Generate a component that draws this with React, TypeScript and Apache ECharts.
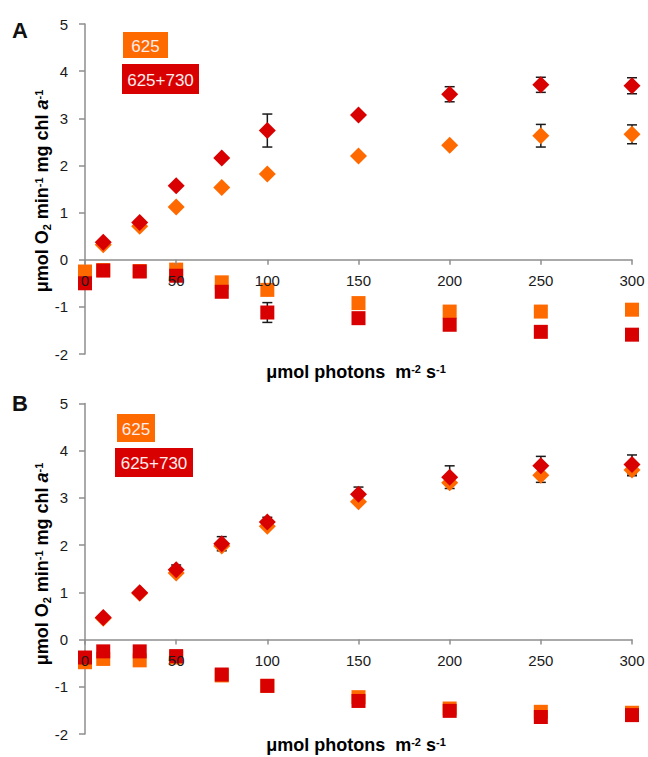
import React, { useEffect, useRef } from "react";
import * as echarts from "echarts";

// ---- data ----
const legendNames = ["625", "625+730"];
const xTicks = [0, 50, 100, 150, 200, 250, 300];
const yTicks = [-2, -1, 0, 1, 2, 3, 4, 5];

const diamondX = [10, 30, 50, 75, 100, 150, 200, 250, 300];
const squareX = [0, 10, 30, 50, 75, 100, 150, 200, 250, 300];

// Panel A
const aOrangeDiamond = [0.32, 0.71, 1.12, 1.53, 1.82, 2.2, 2.43, 2.63, 2.66];
const aRedDiamond = [0.37, 0.79, 1.57, 2.16, 2.74, 3.07, 3.51, 3.71, 3.69];
const aOrangeDiamondErr = [0, 0, 0, 0, 0, 0, 0, 0.24, 0.2];
const aRedDiamondErr = [0, 0, 0, 0, 0.35, 0, 0.16, 0.16, 0.17];
const aOrangeSquare = [-0.25, -0.22, -0.24, -0.21, -0.48, -0.64, -0.92, -1.1, -1.1, -1.06];
const aRedSquare = [-0.5, -0.23, -0.25, -0.34, -0.68, -1.12, -1.24, -1.38, -1.53, -1.59];
const aRedSquareErr = [0, 0, 0, 0, 0, 0.21, 0, 0, 0, 0];

// Panel B
const bOrangeDiamond = [0.45, 0.98, 1.41, 1.98, 2.4, 2.92, 3.32, 3.48, 3.59];
const bRedDiamond = [0.47, 0.99, 1.48, 2.03, 2.49, 3.08, 3.44, 3.68, 3.71];
const bOrangeDiamondErr = [0, 0, 0, 0, 0, 0, 0, 0.15, 0.12];
const bRedDiamondErr = [0, 0, 0.1, 0.15, 0.1, 0.15, 0.24, 0.2, 0.2];
const bOrangeSquare = [-0.48, -0.41, -0.44, -0.38, -0.76, -0.98, -1.22, -1.46, -1.53, -1.55];
const bRedSquare = [-0.38, -0.25, -0.25, -0.35, -0.74, -0.98, -1.3, -1.51, -1.64, -1.6];
const bRedSquareErr = [0, 0, 0, 0, 0, 0, 0, 0, 0.1, 0.08];

const ORANGE = "#FF6A00";
const RED = "#D80000";
const AXIS = "#8e8e8e";
const FONT = "'Liberation Sans', Arial, sans-serif";

const GRID_H = [330, 330.5];

function pairs(xs: number[], ys: number[]) {
  return xs.map((x, i) => [x, ys[i]]);
}
function errTriples(xs: number[], ys: number[], es: number[]) {
  return xs.map((x, i) => [x, ys[i], es[i]]).filter((d) => d[2] > 0);
}

function errSeries(data: number[][], idx: number) {
  return {
    type: "custom",
    xAxisIndex: idx,
    yAxisIndex: idx,
    z: 1,
    silent: true,
    data,
    renderItem: (params: any, api: any) => {
      const x = api.value(0);
      const y = api.value(1);
      const e = api.value(2);
      const top = api.coord([x, y + e]);
      const bot = api.coord([x, y - e]);
      const w = 5;
      const st = { stroke: "#1a1a1a", lineWidth: 1.5 };
      return {
        type: "group",
        children: [
          { type: "line", shape: { x1: top[0], y1: top[1], x2: bot[0], y2: bot[1] }, style: st },
          { type: "line", shape: { x1: top[0] - w, y1: top[1], x2: top[0] + w, y2: top[1] }, style: st },
          { type: "line", shape: { x1: bot[0] - w, y1: bot[1], x2: bot[0] + w, y2: bot[1] }, style: st },
        ],
      };
    },
  };
}

function scatter(name: string, data: number[][], idx: number, color: string, symbol: string, size: number, z: number) {
  return {
    type: "scatter",
    name,
    xAxisIndex: idx,
    yAxisIndex: idx,
    data,
    symbol,
    symbolSize: size,
    itemStyle: { color, opacity: 1 },
    z,
  };
}

function xAxisDef(idx: number) {
  const yMin = yTicks[0];
  const yMax = yTicks[yTicks.length - 1];
  // place the axis at y = 0 inside the grid
  const off = -GRID_H[idx] * (0 - yMin) / (yMax - yMin);
  return {
    type: "value",
    gridIndex: idx,
    position: "bottom",
    offset: off,
    min: xTicks[0],
    max: xTicks[xTicks.length - 1],
    interval: 50,
    z: 5,
    axisLine: { show: true, onZero: false, lineStyle: { color: AXIS, width: 1.5 } },
    axisTick: { show: true, length: 5, inside: false, lineStyle: { color: AXIS, width: 1.5 } },
    axisLabel: { color: "#1a1a1a", fontSize: 15, fontFamily: FONT, margin: 13 },
    splitLine: { show: false },
  };
}
function yAxisDef(idx: number) {
  return {
    type: "value",
    gridIndex: idx,
    min: yTicks[0],
    max: yTicks[yTicks.length - 1],
    interval: 1,
    axisLine: { show: true, onZero: false, lineStyle: { color: AXIS, width: 1.5 } },
    axisTick: { show: true, length: 6, lineStyle: { color: AXIS, width: 1.5 } },
    axisLabel: { color: "#1a1a1a", fontSize: 15, fontFamily: FONT, margin: 17 },
    splitLine: { show: false },
  };
}

const richTitle = {
  b: { fontSize: 18, fontWeight: "bold", fontFamily: FONT, color: "#111", lineHeight: 22 },
  i: { fontSize: 18, fontWeight: "bold", fontStyle: "italic", fontFamily: FONT, color: "#111", lineHeight: 22 },
  sup: { fontSize: 11, fontWeight: "bold", fontFamily: FONT, color: "#111", lineHeight: 22, verticalAlign: "top", padding: [2, 0, 0, 0] },
  sub: { fontSize: 11, fontWeight: "bold", fontFamily: FONT, color: "#111", lineHeight: 22, verticalAlign: "bottom", padding: [0, 0, 1, 0] },
};

function panelGraphics(offsetY: number, letter: string, boxes: { x: number; y: number; w: number; h: number }[]) {
  const colors = [ORANGE, RED];
  const els: any[] = [
    {
      type: "text",
      left: 12,
      top: 19 + offsetY,
      style: { text: letter, fontSize: 22, fontWeight: "bold", fontFamily: FONT, fill: "#111" },
    },
    {
      type: "text",
      x: 42,
      y: 191 + offsetY,
      rotation: Math.PI / 2,
      style: {
        text: "{b|μmol O}{sub|2}{b| min}{sup|-1}{b| mg chl }{i|a}{sup|-1}",
        rich: richTitle,
        align: "center",
        verticalAlign: "middle",
      },
    },
    {
      type: "text",
      x: 356,
      y: 372 + offsetY,
      style: {
        text: "{b|μmol photons  m}{sup|-2}{b| s}{sup|-1}",
        rich: richTitle,
        align: "center",
        verticalAlign: "middle",
      },
    },
  ];
  boxes.forEach((bx, i) => {
    els.push({
      type: "rect",
      shape: { x: bx.x, y: bx.y + offsetY, width: bx.w, height: bx.h },
      style: { fill: colors[i] },
    });
    els.push({
      type: "text",
      x: bx.x + bx.w / 2,
      y: bx.y + offsetY + bx.h / 2 + 1,
      style: {
        text: legendNames[i],
        fontSize: 17,
        fontFamily: FONT,
        fill: "#FFEDED",
        align: "center",
        verticalAlign: "middle",
      },
    });
  });
  return els;
}

export default function App() {
  const ref = useRef<HTMLDivElement>(null);
  useEffect(() => {
    document.body.style.margin = "0";
    const chart = echarts.init(ref.current!, undefined, { renderer: "svg" });
    const option: any = {
      animation: false,
      backgroundColor: "#ffffff",
      grid: [
        { left: 85, top: 24, width: 547, height: GRID_H[0] },
        { left: 85, top: 403.5, width: 547, height: GRID_H[1] },
      ],
      xAxis: [xAxisDef(0), xAxisDef(1)],
      yAxis: [yAxisDef(0), yAxisDef(1)],
      series: [
        errSeries(errTriples(diamondX, aOrangeDiamond, aOrangeDiamondErr), 0),
        errSeries(errTriples(diamondX, aRedDiamond, aRedDiamondErr), 0),
        errSeries(errTriples(squareX, aRedSquare, aRedSquareErr), 0),
        scatter(legendNames[0], pairs(squareX, aOrangeSquare), 0, ORANGE, "rect", 14, 2),
        scatter(legendNames[1], pairs(squareX, aRedSquare), 0, RED, "rect", 14, 3),
        scatter(legendNames[0], pairs(diamondX, aOrangeDiamond), 0, ORANGE, "diamond", 17, 2),
        scatter(legendNames[1], pairs(diamondX, aRedDiamond), 0, RED, "diamond", 17, 3),

        errSeries(errTriples(diamondX, bOrangeDiamond, bOrangeDiamondErr), 1),
        errSeries(errTriples(diamondX, bRedDiamond, bRedDiamondErr), 1),
        errSeries(errTriples(squareX, bRedSquare, bRedSquareErr), 1),
        scatter(legendNames[0], pairs(squareX, bOrangeSquare), 1, ORANGE, "rect", 14, 2),
        scatter(legendNames[1], pairs(squareX, bRedSquare), 1, RED, "rect", 14, 3),
        scatter(legendNames[0], pairs(diamondX, bOrangeDiamond), 1, ORANGE, "diamond", 17, 2),
        scatter(legendNames[1], pairs(diamondX, bRedDiamond), 1, RED, "diamond", 17, 3),
      ],
      graphic: [
        ...panelGraphics(0, "A", [
          { x: 123, y: 32, w: 45, h: 26 },
          { x: 122, y: 64, w: 77, h: 30 },
        ]),
        ...panelGraphics(373, "B", [
          { x: 117, y: 414 - 373, w: 38, h: 28 },
          { x: 115, y: 448 - 373, w: 78, h: 29 },
        ]),
      ],
    };
    chart.setOption(option);
    return () => chart.dispose();
  }, []);
  return <div ref={ref} style={{ width: 648, height: 757 }} />;
}
